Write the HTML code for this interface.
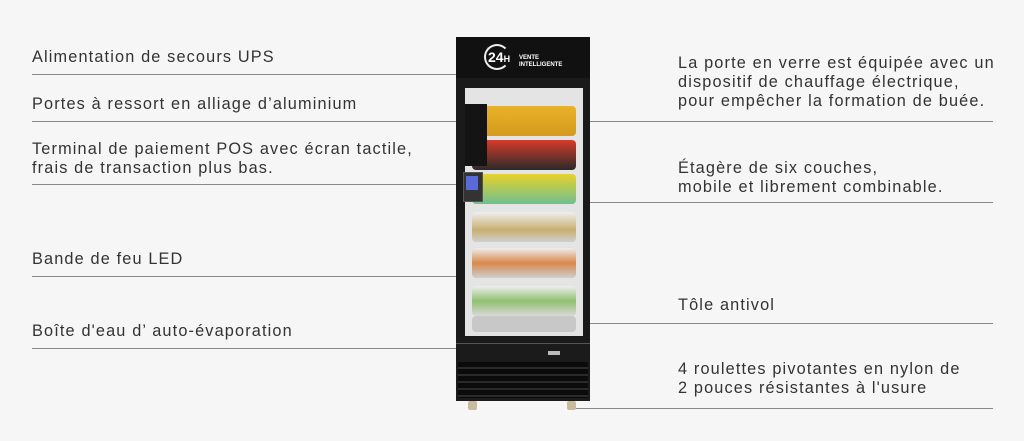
<!DOCTYPE html>
<html><head><meta charset="utf-8"><style>
body{margin:0;width:1024px;height:441px;background:#f6f6f6;position:relative;overflow:hidden;font-family:"Liberation Sans",sans-serif;color:#333;}
.t{position:absolute;font-size:16.3px;line-height:19px;letter-spacing:1.15px;white-space:nowrap}
.l{position:absolute;height:1px;background:#8a8a8a}
.a{position:absolute}
.shelf{position:absolute;left:472px;width:104px;height:30px;border-radius:4px}
</style></head><body>
<div class="t" style="left:32px;top:48px">Alimentation de secours UPS</div>
<div class="l" style="left:32px;top:74px;width:428px"></div>
<div class="t" style="left:32px;top:95px">Portes à ressort en alliage d’aluminium</div>
<div class="l" style="left:32px;top:121px;width:440px"></div>
<div class="t" style="left:32px;top:140px">Terminal de paiement POS avec écran tactile,<br>frais de transaction plus bas.</div>
<div class="l" style="left:32px;top:184px;width:430px"></div>
<div class="t" style="left:32px;top:250px">Bande de feu LED</div>
<div class="l" style="left:32px;top:276px;width:440px"></div>
<div class="t" style="left:32px;top:322px">Boîte d'eau d’ auto-évaporation</div>
<div class="l" style="left:32px;top:348px;width:430px"></div>

<div class="t" style="left:678px;top:54px">La porte en verre est équipée avec un<br>dispositif de chauffage électrique,<br>pour empêcher la formation de buée.</div>
<div class="l" style="left:572px;top:121px;width:421px"></div>
<div class="t" style="left:678px;top:159px">Étagère de six couches,<br>mobile et librement combinable.</div>
<div class="l" style="left:575px;top:202px;width:418px"></div>
<div class="t" style="left:678px;top:296px">Tôle antivol</div>
<div class="l" style="left:586px;top:323px;width:407px"></div>
<div class="t" style="left:678px;top:360px">4 roulettes pivotantes en nylon de<br>2 pouces résistantes à l'usure</div>
<div class="l" style="left:572px;top:408px;width:421px"></div>

<!-- fridge -->
<div class="a" style="left:456px;top:37px;width:134px;height:41px;background:#111"></div>
<div class="a" style="left:484px;top:44px;width:22px;height:22px;border:2px solid #eee;border-radius:50%;border-right-color:transparent"></div>
<div class="a" style="left:488px;top:49px;color:#fff;font-weight:bold;font-size:14px">24<span style="font-size:9px">H</span></div>
<div class="a" style="left:519px;top:55px;color:#fff;font-size:6px;line-height:7px;font-weight:bold">VENTE<br>INTELLIGENTE</div>
<div class="a" style="left:456px;top:78px;width:134px;height:265px;background:#1a1a1a"></div>
<div class="a" style="left:465px;top:88px;width:118px;height:248px;background:#e4e4e4"></div>
<div class="shelf" style="top:106px;background:linear-gradient(#e9b22a,#d59a1e)"></div>
<div class="shelf" style="top:140px;background:linear-gradient(#d83a2a,#2a2a2a)"></div>
<div class="shelf" style="top:174px;background:linear-gradient(#e8d22a,#6fbf90)"></div>
<div class="shelf" style="top:212px;background:linear-gradient(#eee,#c9b070 60%,#cfcfcf)"></div>
<div class="shelf" style="top:248px;background:linear-gradient(#eee,#d8884a 50%,#cfcfcf)"></div>
<div class="shelf" style="top:286px;background:linear-gradient(#eee,#8fc070 50%,#d9d9d9)"></div>
<div class="a" style="left:472px;top:316px;width:104px;height:16px;background:#c8c8c8;border-radius:4px"></div>
<div class="a" style="left:465px;top:104px;width:22px;height:62px;background:#141414"></div>
<div class="a" style="left:463px;top:172px;width:18px;height:28px;background:#333;border:1px solid #555"></div>
<div class="a" style="left:466px;top:176px;width:12px;height:14px;background:#5a6ad8"></div>
<div class="a" style="left:456px;top:343px;width:134px;height:58px;background:#1b1b1b"></div>
<div class="a" style="left:456px;top:343px;width:134px;height:1px;background:#555"></div>
<div class="a" style="left:458px;top:362px;width:130px;height:36px;background:repeating-linear-gradient(#0b0b0b 0 5px,#2a2a2a 5px 7px)"></div>
<div class="a" style="left:548px;top:351px;width:12px;height:4px;background:#bbb"></div>
<div class="a" style="left:468px;top:401px;width:9px;height:9px;background:#c8bba0;border-radius:2px"></div>
<div class="a" style="left:567px;top:401px;width:9px;height:9px;background:#c8bba0;border-radius:2px"></div>
</body></html>
